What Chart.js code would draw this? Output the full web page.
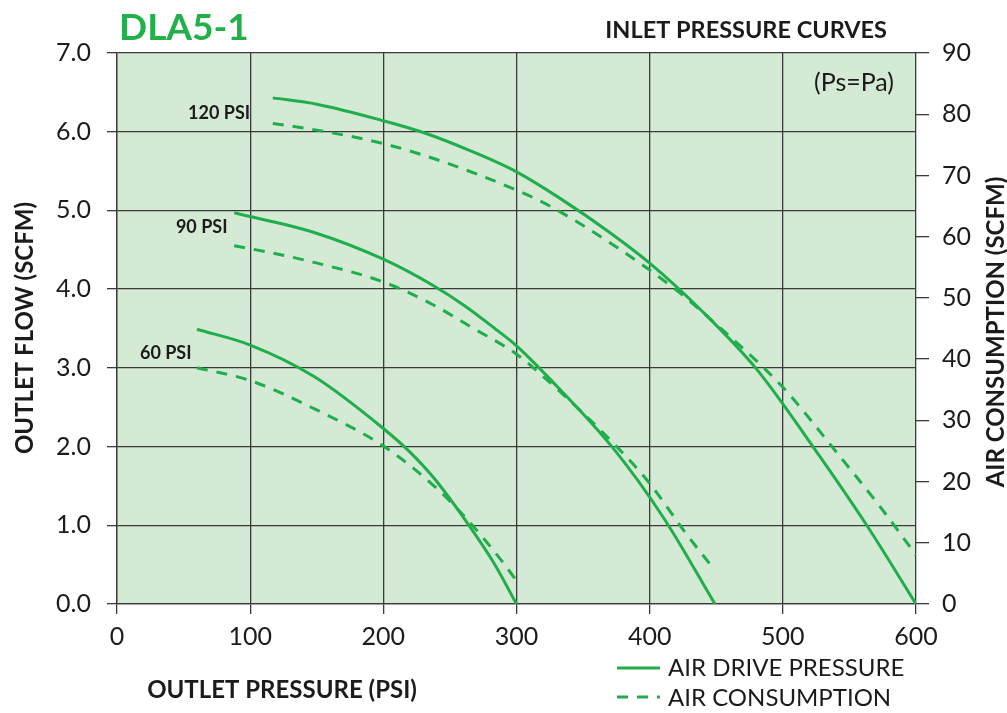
<!DOCTYPE html>
<html>
<head>
<meta charset="utf-8">
<script src="https://cdn.jsdelivr.net/npm/chart.js@4.4.0/dist/chart.umd.min.js"></script>
<style>
  html, body { margin: 0; padding: 0; background: #ffffff; }
  #wrap { width: 1007px; height: 713px; position: relative; }
</style>
</head>
<body>
<div id="wrap"><canvas id="c" width="1007" height="713"></canvas></div>
<script>
// ---- Data ----
const xTickValues = [0, 100, 200, 300, 400, 500, 600];

// 120 PSI inlet
const p120Drive = [117, 150, 200, 230, 265, 300, 333, 370, 400, 440, 480, 523, 563, 600];
const f120Drive = [6.43, 6.35, 6.14, 5.99, 5.76, 5.49, 5.15, 4.72, 4.33, 3.71, 2.99, 1.99, 1.00, 0.0];
const p120Air = [117, 150, 200, 240, 300, 325, 373, 421, 453, 500, 541, 573, 600];
const c120Air = [78.5, 77.4, 75.2, 72.6, 67.6, 65.0, 58.6, 51.1, 45.1, 35.4, 24.6, 15.9, 8.0];

// 90 PSI inlet
const p90Drive = [88, 148, 200, 238, 261, 283, 300, 325, 373, 411, 449];
const f90Drive = [4.97, 4.72, 4.38, 4.04, 3.79, 3.51, 3.28, 2.86, 1.97, 1.08, 0.0];
const p90Air = [88, 113, 148, 200, 238, 267, 300, 325, 373, 400, 427, 449];
const c90Air = [58.5, 57.5, 55.8, 52.6, 48.8, 45.1, 40.8, 36.2, 26.2, 19.7, 11.6, 5.5];

// 60 PSI inlet
const p60Drive = [60, 100, 148, 200, 220, 238, 263, 283, 300];
const f60Drive = [3.49, 3.29, 2.89, 2.23, 1.93, 1.60, 1.03, 0.52, 0.0];
const p60Air = [60, 100, 148, 200, 238, 263, 288, 300];
const c60Air = [38.6, 36.5, 31.9, 25.8, 19.3, 13.8, 7.3, 3.8];

// Curve label texts and their anchors (right edge, in data units)
const curveLabelTexts = ['120 PSI', '90 PSI', '60 PSI'];
const curveLabelX = [100, 83, 56];
const curveLabelY = [6.24, 4.79, 3.19];

const GREEN = '#1fae4b';
const INK = '#1b1b1b';
const GRID = '#3a3a3a';
const FONT = 'Lato, "Open Sans", sans-serif';

function pts(xs, ys) { return xs.map((x, i) => ({ x: x, y: ys[i] })); }

function solid(xs, ys) {
  return { data: pts(xs, ys), yAxisID: 'y', borderColor: GREEN, borderWidth: 3,
    pointRadius: 0, fill: false, cubicInterpolationMode: 'monotone', showLine: true };
}
function dashed(xs, ys) {
  return { data: pts(xs, ys), yAxisID: 'y2', borderColor: GREEN, borderWidth: 3,
    borderDash: [11, 9], pointRadius: 0, fill: false, cubicInterpolationMode: 'monotone', showLine: true };
}

const decor = {
  id: 'decor',
  beforeDraw(chart) {
    const { ctx, chartArea: a } = chart;
    ctx.save();
    ctx.fillStyle = '#d4ead5';
    ctx.fillRect(a.left, a.top, a.right - a.left, a.bottom - a.top);
    ctx.restore();
  },
  afterDraw(chart) {
    const { ctx } = chart;
    const xs = chart.scales.x, ys = chart.scales.y;
    ctx.save();
    // Title
    ctx.fillStyle = '#22b04b';
    ctx.font = 'bold 37px ' + FONT;
    ctx.textBaseline = 'middle';
    ctx.textAlign = 'left';
    ctx.fillText('DLA5-1', 119, 28);
    // Subtitle
    ctx.fillStyle = INK;
    ctx.font = 'bold 23.5px ' + FONT;
    ctx.textAlign = 'right';
    ctx.fillText('INLET PRESSURE CURVES', 887, 30);
    ctx.font = '25px ' + FONT;
    ctx.fillText('(Ps=Pa)', 894, 83);
    // Curve labels
    ctx.font = 'bold 18px ' + FONT;
    ctx.textAlign = 'right';
    curveLabelTexts.forEach((t, i) => {
      ctx.fillText(t, xs.getPixelForValue(curveLabelX[i]), ys.getPixelForValue(curveLabelY[i]));
    });
    // Axis titles
    ctx.font = 'bold 24px ' + FONT;
    ctx.textAlign = 'center';
    ctx.save();
    ctx.translate(25, 328);
    ctx.rotate(-Math.PI / 2);
    ctx.fillText('OUTLET FLOW (SCFM)', 0, 0);
    ctx.restore();
    ctx.save();
    ctx.translate(996, 332);
    ctx.rotate(-Math.PI / 2);
    ctx.fillText('AIR CONSUMPTION (SCFM)', 0, 0);
    ctx.restore();
    ctx.fillText('OUTLET PRESSURE (PSI)', 282, 690);
    // Legend
    ctx.strokeStyle = GREEN;
    ctx.lineWidth = 3;
    ctx.beginPath(); ctx.moveTo(617, 668); ctx.lineTo(660, 668); ctx.stroke();
    ctx.setLineDash([11, 9]);
    ctx.beginPath(); ctx.moveTo(617, 697); ctx.lineTo(660, 697); ctx.stroke();
    ctx.setLineDash([]);
    ctx.font = '24px ' + FONT;
    ctx.textAlign = 'left';
    ctx.fillStyle = INK;
    ctx.fillText('AIR DRIVE PRESSURE', 668, 668);
    ctx.fillText('AIR CONSUMPTION', 668, 698);
    ctx.restore();
  }
};

new Chart(document.getElementById('c'), {
  type: 'scatter',
  data: {
    datasets: [
      solid(p120Drive, f120Drive), dashed(p120Air, c120Air),
      solid(p90Drive, f90Drive), dashed(p90Air, c90Air),
      solid(p60Drive, f60Drive), dashed(p60Air, c60Air)
    ]
  },
  options: {
    responsive: false,
    devicePixelRatio: 1,
    animation: false,
    layout: { padding: { top: 53, left: 0, right: 0, bottom: 0 } },
    plugins: { legend: { display: false }, tooltip: { enabled: false } },
    scales: {
      x: {
        type: 'linear', min: 0, max: 600,
        afterBuildTicks(s) { s.ticks = xTickValues.map(v => ({ value: v })); },
        afterFit(s) { s.height = 109; },
        grid: { color: GRID, lineWidth: 1.3, tickLength: 10, drawTicks: true },
        border: { display: true, color: GRID, width: 1.3 },
        ticks: { color: INK, font: { family: FONT, size: 25 }, padding: 8 }
      },
      y: {
        type: 'linear', position: 'left', min: 0, max: 7,
        ticks: { stepSize: 1, color: INK, font: { family: FONT, size: 25 }, padding: 16,
          callback: v => Number(v).toFixed(1) },
        afterFit(s) { s.width = 117; },
        grid: { color: GRID, lineWidth: 1.3, tickLength: 10 },
        border: { display: true, color: GRID, width: 1.3 }
      },
      y2: {
        type: 'linear', position: 'right', min: 0, max: 90,
        ticks: { stepSize: 10, color: INK, font: { family: FONT, size: 25 }, padding: 13 },
        afterFit(s) { s.width = 91; },
        grid: { drawOnChartArea: false, color: GRID, lineWidth: 1.3, tickLength: 13 },
        border: { display: false }
      }
    }
  },
  plugins: [decor]
});
</script>
</body>
</html>
